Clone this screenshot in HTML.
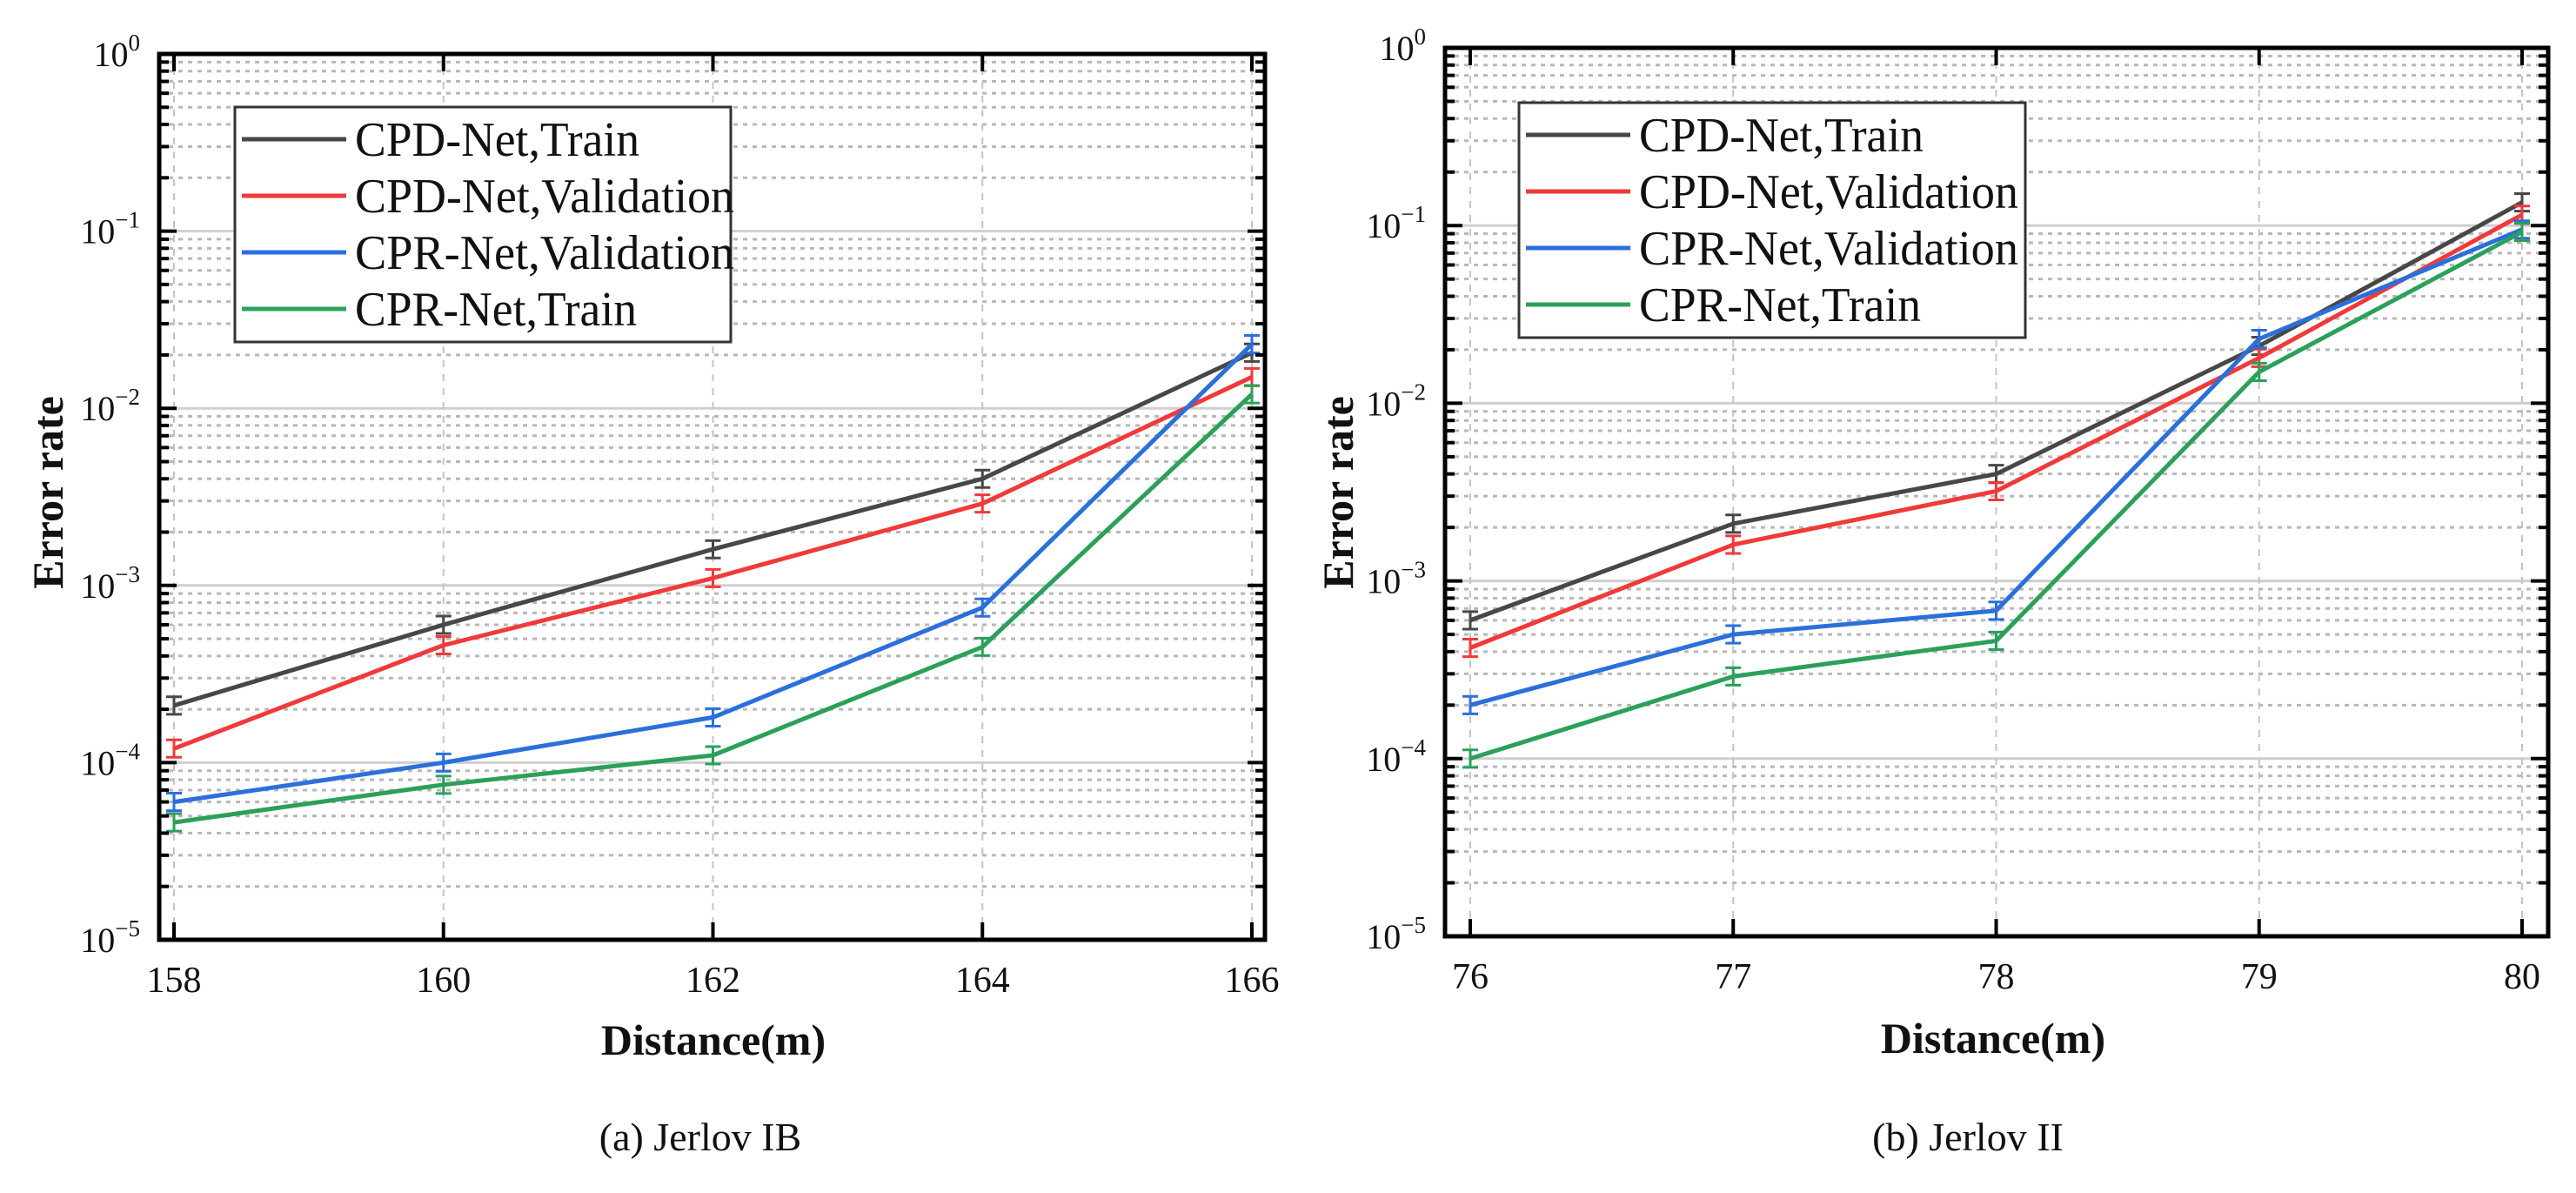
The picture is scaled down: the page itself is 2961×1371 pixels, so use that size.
<!DOCTYPE html>
<html><head><meta charset="utf-8">
<style>
html,body{margin:0;padding:0;background:#fff;}
svg{display:block;}
text{font-family:"Liberation Serif","DejaVu Serif",serif;fill:#111;}
</style></head>
<body>
<svg id="fig" width="2961" height="1371" viewBox="0 0 2961 1371" xmlns="http://www.w3.org/2000/svg"></svg>
<script>
// ---- Data: panel (a) Jerlov IB ----
const distA = [158, 160, 162, 164, 166];
const cpdTrainA = [2.1e-4, 6.0e-4, 1.6e-3, 4.0e-3, 2.06e-2];
const cpdValA   = [1.2e-4, 4.6e-4, 1.1e-3, 2.9e-3, 1.5e-2];
const cprValA   = [6.0e-5, 1.0e-4, 1.8e-4, 7.5e-4, 2.3e-2];
const cprTrainA = [4.6e-5, 7.5e-5, 1.1e-4, 4.5e-4, 1.2e-2];
// ---- Data: panel (b) Jerlov II ----
const distB = [76, 77, 78, 79, 80];
const cpdTrainB = [6.0e-4, 2.1e-3, 4.0e-3, 2.1e-2, 1.35e-1];
const cpdValB   = [4.2e-4, 1.6e-3, 3.2e-3, 1.8e-2, 1.15e-1];
const cprValB   = [2.0e-4, 5.0e-4, 6.8e-4, 2.3e-2, 9.5e-2];
const cprTrainB = [1.0e-4, 2.9e-4, 4.6e-4, 1.5e-2, 9.2e-2];
const yExps = [0, -1, -2, -3, -4, -5];
const seriesNames = ["CPD-Net,Train", "CPD-Net,Validation", "CPR-Net,Validation", "CPR-Net,Train"];

const NS = "http://www.w3.org/2000/svg";
const svg = document.getElementById('fig');
function mk(tag, attrs, parent){
  const e = document.createElementNS(NS, tag);
  for (const k in attrs) e.setAttribute(k, attrs[k]);
  (parent||svg).appendChild(e);
  return e;
}
const colors = ["#474747", "#f03a3a", "#2b6fdc", "#2ba05a"];

function panel(cfg){
  const g = mk('g', {});
  
  
  const L=cfg.left, R=cfg.right, T=cfg.top, B=cfg.bottom;
  const dec = (B-T)/5;
  const y = v => T + (-Math.log10(v))*dec;
  const xs = cfg.xs;
  const x = d => cfg.x0px + (d - xs[0])*(cfg.x1px - cfg.x0px)/(xs[xs.length-1]-xs[0]);
  // grid
  const grid = mk('g', {}, g);
  
  
  for (let e=0; e>-5; e--){
    for (let m=2; m<=9; m++){
      const yy = y(m*Math.pow(10,e-1));
      mk('line',{x1:L,x2:R,y1:yy,y2:yy,stroke:"#b8b8b8","stroke-width":3,"stroke-dasharray":"5 6"},grid);
    }
  }
  yExps.forEach(e=>{
    const yy=y(Math.pow(10,e));
    mk('line',{x1:L,x2:R,y1:yy,y2:yy,stroke:"#cfcfcf","stroke-width":3},grid);
  });
  xs.forEach(d=>{
    mk('line',{x1:x(d),x2:x(d),y1:T,y2:B,stroke:"#c4c4c4","stroke-width":2,"stroke-dasharray":"8 8"},grid);
  });
  // series
  const data = cfg.series;
  data.forEach((vals,i)=>{
    const sg = mk('g',{},g);
    
    
    const pts = vals.map((v,j)=>x(xs[j]).toFixed(1)+','+y(v).toFixed(1)).join(' ');
    const pl = mk('polyline',{points:pts,fill:"none",stroke:colors[i],"stroke-width":5,"stroke-linejoin":"round"},sg);
    
    
    vals.forEach((v,j)=>{
      const xx=x(xs[j]), y1=y(v*1.12), y2=y(v/1.12);
      const eb = mk('path',{d:`M${xx},${y1}V${y2}M${xx-9},${y1}H${xx+9}M${xx-9},${y2}H${xx+9}`,stroke:colors[i],"stroke-width":3,fill:"none"},sg);
      
      
    });
  });
  // ticks
  const ax = mk('g',{},g);
  
  
  for (let e=0; e>-5; e--){
    for (let m=2; m<=9; m++){
      const yy=y(m*Math.pow(10,e-1));
      mk('line',{x1:L,x2:L+11,y1:yy,y2:yy,stroke:"#000","stroke-width":4},ax);
      if (cfg.rightTicks) mk('line',{x1:R,x2:R-11,y1:yy,y2:yy,stroke:"#000","stroke-width":4},ax);
    }
  }
  yExps.forEach(e=>{
    const yy=y(Math.pow(10,e));
    mk('line',{x1:L,x2:L+20,y1:yy,y2:yy,stroke:"#000","stroke-width":4},ax);
    if (cfg.rightTicks) mk('line',{x1:R,x2:R-20,y1:yy,y2:yy,stroke:"#000","stroke-width":4},ax);
    const t = mk('text',{x:L-22,y:yy+14,"font-size":40,"text-anchor":"end"},ax);
    
    
    t.textContent = '10';
    const s = mk('tspan',{dy:-18,"font-size":27},t);
    s.textContent = String(e).replace('-', '\u2212');
    // move "10" left to accommodate exponent
  });
  xs.forEach(d=>{
    mk('line',{x1:x(d),x2:x(d),y1:B,y2:B-20,stroke:"#000","stroke-width":4},ax);
    mk('line',{x1:x(d),x2:x(d),y1:T,y2:T+20,stroke:"#000","stroke-width":4},ax);
    const t = mk('text',{x:x(d),y:B+60,"font-size":42,"text-anchor":"middle"},ax);
    
    
    t.textContent = d;
  });
  const fr = mk('rect',{x:L,y:T,width:R-L,height:B-T,fill:"none",stroke:"#000","stroke-width":5},ax);
  
  
  // axis titles
  const xt = mk('text',{x:cfg.xTitleX,y:cfg.xTitleY,"font-size":50,"font-weight":"bold","text-anchor":"middle"},g);
  
  
  xt.textContent='Distance(m)';
  const yt = mk('text',{x:0,y:0,"font-size":50,"font-weight":"bold","text-anchor":"middle",transform:`translate(${cfg.yTitleX},${cfg.yTitleY}) rotate(-90)`},g);
  
  
  yt.textContent='Error rate';
  // legend
  const lg = mk('g',{},g);
  
  
  const lb = cfg.legend;
  mk('rect',{x:lb.x,y:lb.y,width:lb.w,height:lb.h,fill:"#fff",stroke:"#333","stroke-width":3},lg);
  seriesNames.forEach((n,i)=>{
    const ry = lb.y + 37 + i*65;
    const en = mk('g',{},lg);
    
    
    mk('line',{x1:lb.x+8,x2:lb.x+128,y1:ry,y2:ry,stroke:colors[i],"stroke-width":5},en);
    const t = mk('text',{x:lb.x+138,y:ry+19,"font-size":56,textLength:(n.indexOf('Validation')>0?436:(n.startsWith('CPD')?327:324)),lengthAdjust:"spacingAndGlyphs"},en);
    t.textContent = n;
  });
  // caption
  const cp = mk('text',{x:cfg.capX,y:1322,"font-size":46,"text-anchor":"middle"},g);
  
  
  cp.textContent = cfg.caption;
}

panel({name:'panel-a-jerlov-ib', left:183, right:1454, top:62, bottom:1080, xs:distA, x0px:200, x1px:1439,
  series:[cpdTrainA,cpdValA,cprValA,cprTrainA], rightTicks:true,
  xTitleX:820, xTitleY:1212, yTitleX:72, yTitleY:566,
  legend:{x:270,y:123,w:570,h:270}, capX:805, caption:'(a) Jerlov IB'});
panel({name:'panel-b-jerlov-ii', left:1661, right:2929, top:55, bottom:1076, xs:distB, x0px:1690, x1px:2899,
  series:[cpdTrainB,cpdValB,cprValB,cprTrainB], rightTicks:true,
  xTitleX:2291, xTitleY:1210, yTitleX:1555, yTitleY:566,
  legend:{x:1746,y:118,w:582,h:270}, capX:2262, caption:'(b) Jerlov II'});
</script>
</body></html>
